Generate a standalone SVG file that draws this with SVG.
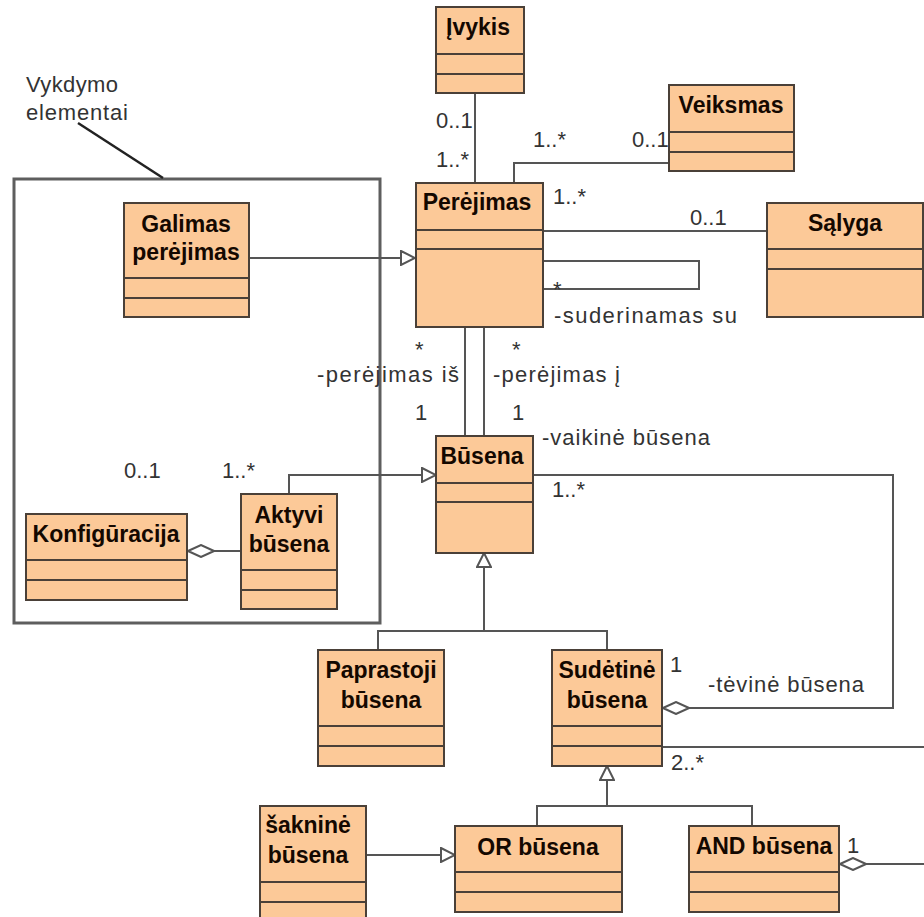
<svg xmlns="http://www.w3.org/2000/svg" width="924" height="917" viewBox="0 0 924 917">
  <style>
    .box { fill: #FCC998; stroke: #4a4038; stroke-width: 2; }
    .sep { stroke: #4a4038; stroke-width: 2; }
    .title { font-family: "Liberation Sans", Arial, sans-serif; font-weight: bold; font-size: 23px; fill: #140800; text-anchor: middle; }
    .lbl { font-family: "Liberation Sans", Arial, sans-serif; font-size: 22px; fill: #333; }
    .conn { fill: none; stroke: #555; stroke-width: 2; }
    .frame { fill: none; stroke: #5e5e5e; stroke-width: 3; }
    .note { stroke: #222; stroke-width: 2.5; }
  </style>
  <defs>
    <!-- hollow triangle: generalization -->
    <marker id="gen" markerUnits="userSpaceOnUse" viewBox="0 0 16 16" refX="15" refY="8" markerWidth="16" markerHeight="16" orient="auto">
      <path d="M1,1 L15,8 L1,15 Z" fill="#fff" stroke="#555" stroke-width="2"/>
    </marker>
    <!-- hollow diamond: aggregation -->
    <marker id="agg" markerUnits="userSpaceOnUse" viewBox="0 0 28 14" refX="0" refY="7" markerWidth="28" markerHeight="14" orient="auto">
      <path d="M1,7 L14,1 L27,7 L14,13 Z" fill="#fff" stroke="#555" stroke-width="2"/>
    </marker>
  </defs>

  <rect width="924" height="917" fill="#fff"/>

  <!-- execution elements package frame and its note -->
  <g id="vykdymo-elementai">
    <rect class="frame" x="14" y="179" width="366" height="444"/>
    <line class="note" x1="78" y1="123" x2="163" y2="178"/>
    <text class="lbl" x="26" y="92" textLength="92">Vykdymo</text>
    <text class="lbl" x="26" y="120" textLength="102">elementai</text>
  </g>

  <!-- connectors -->
  <g id="connectors">
    <path class="conn" d="M475,93 V183"/>
    <path class="conn" d="M514,183 V163 H669"/>
    <path class="conn" d="M543,231 H767"/>
    <path class="conn" d="M543,261 H699 V289 H543"/>
    <path class="conn" d="M249,258 H415" marker-end="url(#gen)"/>
    <path class="conn" d="M465,327 V436"/>
    <path class="conn" d="M484,327 V436"/>
    <path class="conn" d="M289,494 V475 H436" marker-end="url(#gen)"/>
    <path class="conn" d="M187,551 H241" marker-start="url(#agg)"/>
    <path class="conn" d="M662,708 H893 V475 H533" marker-start="url(#agg)"/>
    <path class="conn" d="M662,747 H924"/>
    <path class="conn" d="M378,650 V631 H607 V650"/>
    <path class="conn" d="M484,631 V553" marker-end="url(#gen)"/>
    <path class="conn" d="M537,826 V806 H752 V826"/>
    <path class="conn" d="M607,806 V766" marker-end="url(#gen)"/>
    <path class="conn" d="M366,855 H455" marker-end="url(#gen)"/>
    <path class="conn" d="M839,864 H924" marker-start="url(#agg)"/>

    <!-- multiplicities and role names -->
    <text class="lbl" x="436" y="128">0..1</text>
    <text class="lbl" x="436" y="167">1..*</text>
    <text class="lbl" x="533" y="147">1..*</text>
    <text class="lbl" x="632" y="147">0..1</text>
    <text class="lbl" x="553" y="204">1..*</text>
    <text class="lbl" x="690" y="225">0..1</text>
    <text class="lbl" x="553" y="297">*</text>
    <text class="lbl" x="554" y="323" textLength="183">-suderinamas su</text>
    <text class="lbl" x="415" y="357">*</text>
    <text class="lbl" x="317" y="382" textLength="142">-perėjimas iš</text>
    <text class="lbl" x="415" y="420">1</text>
    <text class="lbl" x="512" y="357">*</text>
    <text class="lbl" x="493" y="382" textLength="127">-perėjimas į</text>
    <text class="lbl" x="512" y="420">1</text>
    <text class="lbl" x="542" y="445" textLength="168">-vaikinė būsena</text>
    <text class="lbl" x="552" y="497">1..*</text>
    <text class="lbl" x="124" y="478">0..1</text>
    <text class="lbl" x="222" y="478">1..*</text>
    <text class="lbl" x="670" y="672">1</text>
    <text class="lbl" x="708" y="692" textLength="156">-tėvinė būsena</text>
    <text class="lbl" x="671" y="770">2..*</text>
    <text class="lbl" x="847" y="853">1</text>
  </g>

  <g id="ivykis">
    <rect class="box" x="436" y="7" width="88" height="86"/>
    <line class="sep" x1="436" y1="54" x2="524" y2="54"/>
    <line class="sep" x1="436" y1="74" x2="524" y2="74"/>
    <text class="title" x="478" y="35">Įvykis</text>
  </g>

  <g id="veiksmas">
    <rect class="box" x="669" y="85" width="125" height="86"/>
    <line class="sep" x1="669" y1="132" x2="794" y2="132"/>
    <line class="sep" x1="669" y1="152" x2="794" y2="152"/>
    <text class="title" x="731" y="113">Veiksmas</text>
  </g>

  <g id="perejimas">
    <rect class="box" x="416" y="183" width="127" height="144"/>
    <line class="sep" x1="416" y1="230" x2="543" y2="230"/>
    <line class="sep" x1="416" y1="249" x2="543" y2="249"/>
    <text class="title" x="477" y="210">Perėjimas</text>
  </g>

  <g id="salyga">
    <rect class="box" x="767" y="203" width="156" height="114"/>
    <line class="sep" x1="767" y1="249" x2="923" y2="249"/>
    <line class="sep" x1="767" y1="269" x2="923" y2="269"/>
    <text class="title" x="845" y="231">Sąlyga</text>
  </g>

  <g id="galimas-perejimas">
    <rect class="box" x="124" y="203" width="125" height="114"/>
    <line class="sep" x1="124" y1="278" x2="249" y2="278"/>
    <line class="sep" x1="124" y1="298" x2="249" y2="298"/>
    <text class="title" x="186" y="232">Galimas</text>
    <text class="title" x="186" y="260">perėjimas</text>
  </g>

  <g id="konfiguracija">
    <rect class="box" x="26" y="514" width="161" height="86"/>
    <line class="sep" x1="26" y1="560" x2="187" y2="560"/>
    <line class="sep" x1="26" y1="580" x2="187" y2="580"/>
    <text class="title" x="106" y="542">Konfigūracija</text>
  </g>

  <g id="aktyvi-busena">
    <rect class="box" x="241" y="494" width="96" height="115"/>
    <line class="sep" x1="241" y1="570" x2="337" y2="570"/>
    <line class="sep" x1="241" y1="590" x2="337" y2="590"/>
    <text class="title" x="289" y="523">Aktyvi</text>
    <text class="title" x="289" y="552">būsena</text>
  </g>

  <g id="busena">
    <rect class="box" x="436" y="436" width="97" height="117"/>
    <line class="sep" x1="436" y1="483" x2="533" y2="483"/>
    <line class="sep" x1="436" y1="502" x2="533" y2="502"/>
    <text class="title" x="482" y="464">Būsena</text>
  </g>

  <g id="paprastoji-busena">
    <rect class="box" x="318" y="650" width="126" height="116"/>
    <line class="sep" x1="318" y1="726" x2="444" y2="726"/>
    <line class="sep" x1="318" y1="746" x2="444" y2="746"/>
    <text class="title" x="381" y="678">Paprastoji</text>
    <text class="title" x="381" y="708">būsena</text>
  </g>

  <g id="sudetine-busena">
    <rect class="box" x="552" y="650" width="110" height="116"/>
    <line class="sep" x1="552" y1="726" x2="662" y2="726"/>
    <line class="sep" x1="552" y1="746" x2="662" y2="746"/>
    <text class="title" x="607" y="678">Sudėtinė</text>
    <text class="title" x="607" y="708">būsena</text>
  </g>

  <g id="saknine-busena">
    <rect class="box" x="260" y="806" width="106" height="120"/>
    <line class="sep" x1="260" y1="882" x2="366" y2="882"/>
    <line class="sep" x1="260" y1="902" x2="366" y2="902"/>
    <text class="title" x="308" y="833">šakninė</text>
    <text class="title" x="308" y="863">būsena</text>
  </g>

  <g id="or-busena">
    <rect class="box" x="455" y="826" width="167" height="86"/>
    <line class="sep" x1="455" y1="872" x2="622" y2="872"/>
    <line class="sep" x1="455" y1="892" x2="622" y2="892"/>
    <text class="title" x="538" y="855">OR būsena</text>
  </g>

  <g id="and-busena">
    <rect class="box" x="689" y="826" width="150" height="86"/>
    <line class="sep" x1="689" y1="872" x2="839" y2="872"/>
    <line class="sep" x1="689" y1="892" x2="839" y2="892"/>
    <text class="title" x="764" y="854">AND būsena</text>
  </g>
</svg>
